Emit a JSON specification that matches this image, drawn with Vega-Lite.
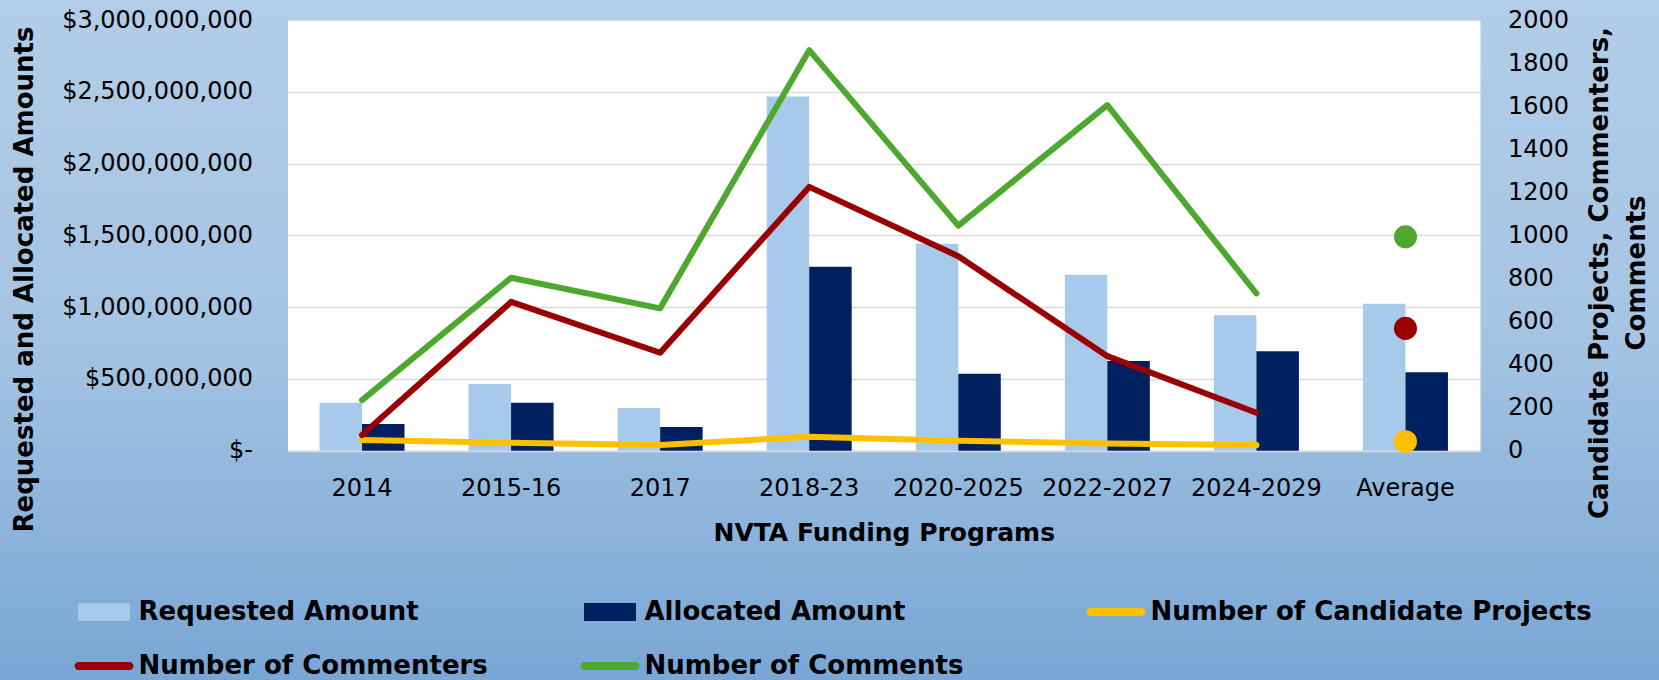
{
  "$schema": "https://vega.github.io/schema/vega-lite/v6.json",
  "width": 1659,
  "height": 680,
  "padding": 0,
  "autosize": {"type": "none"},
  "background": "#A6C5E4",
  "config": {
    "view": {
      "stroke": null,
      "fill": {"gradient": "linear", "x1": 0, "y1": 0, "x2": 0, "y2": 1,
        "stops": [{"offset": 0, "color": "#B2CDE7"}, {"offset": 0.5, "color": "#A5C4E3"}, {"offset": 1, "color": "#78A6D5"}]}
    },
    "font": "DejaVu Sans",
    "axis": {"labelFont": "DejaVu Sans", "labelFontSize": 24, "labelColor": "#000000", "labelLimit": 0, "titleFont": "DejaVu Sans", "titleFontSize": 26, "titleFontWeight": "bold", "titleColor": "#000000", "ticks": false, "domain": false, "grid": false}
  },
  "datasets": {
    "amounts": [
      {"program": "2014", "type": "Requested Amount", "amount": 334000000},
      {"program": "2014", "type": "Allocated Amount", "amount": 186000000},
      {"program": "2015-16", "type": "Requested Amount", "amount": 464000000},
      {"program": "2015-16", "type": "Allocated Amount", "amount": 334000000},
      {"program": "2017", "type": "Requested Amount", "amount": 297000000},
      {"program": "2017", "type": "Allocated Amount", "amount": 165000000},
      {"program": "2018-23", "type": "Requested Amount", "amount": 2468000000},
      {"program": "2018-23", "type": "Allocated Amount", "amount": 1281000000},
      {"program": "2020-2025", "type": "Requested Amount", "amount": 1441000000},
      {"program": "2020-2025", "type": "Allocated Amount", "amount": 536000000},
      {"program": "2022-2027", "type": "Requested Amount", "amount": 1226000000},
      {"program": "2022-2027", "type": "Allocated Amount", "amount": 625000000},
      {"program": "2024-2029", "type": "Requested Amount", "amount": 943000000},
      {"program": "2024-2029", "type": "Allocated Amount", "amount": 692000000},
      {"program": "Average", "type": "Requested Amount", "amount": 1024000000},
      {"program": "Average", "type": "Allocated Amount", "amount": 546000000}
    ],
    "counts": [
      {"program": "2014", "type": "Number of Candidate Projects", "count": 50},
      {"program": "2015-16", "type": "Number of Candidate Projects", "count": 37},
      {"program": "2017", "type": "Number of Candidate Projects", "count": 26},
      {"program": "2018-23", "type": "Number of Candidate Projects", "count": 65},
      {"program": "2020-2025", "type": "Number of Candidate Projects", "count": 46},
      {"program": "2022-2027", "type": "Number of Candidate Projects", "count": 34},
      {"program": "2024-2029", "type": "Number of Candidate Projects", "count": 26},
      {"program": "Average", "type": "Number of Candidate Projects", "count": 42},
      {"program": "2014", "type": "Number of Commenters", "count": 73},
      {"program": "2015-16", "type": "Number of Commenters", "count": 691},
      {"program": "2017", "type": "Number of Commenters", "count": 455},
      {"program": "2018-23", "type": "Number of Commenters", "count": 1225},
      {"program": "2020-2025", "type": "Number of Commenters", "count": 903},
      {"program": "2022-2027", "type": "Number of Commenters", "count": 439},
      {"program": "2024-2029", "type": "Number of Commenters", "count": 176},
      {"program": "Average", "type": "Number of Commenters", "count": 568},
      {"program": "2014", "type": "Number of Comments", "count": 235},
      {"program": "2015-16", "type": "Number of Comments", "count": 803},
      {"program": "2017", "type": "Number of Comments", "count": 661},
      {"program": "2018-23", "type": "Number of Comments", "count": 1860},
      {"program": "2020-2025", "type": "Number of Comments", "count": 1045},
      {"program": "2022-2027", "type": "Number of Comments", "count": 1605},
      {"program": "2024-2029", "type": "Number of Comments", "count": 730},
      {"program": "Average", "type": "Number of Comments", "count": 993}
    ]
  },
  "layer": [
    {
      "data": {"values": [{"program": "2014"}]},
      "mark": {"type": "point", "opacity": 0},
      "encoding": {
        "x": {"field": "program", "type": "nominal", "sort": null},
        "y": {
          "datum": 0.5, "type": "quantitative",
          "scale": {"domain": [0, 1], "range": [450.7, 20], "nice": false},
          "axis": {"orient": "left", "offset": -287.5, "values": [0.5], "labels": false, "title": null,
            "grid": true, "gridColor": "#FFFFFF", "gridWidth": 430.7, "gridOpacity": 1, "gridCap": "butt", "zindex": 0}
        }
      }
    },
    {
      "data": {"name": "amounts"},
      "mark": {"type": "bar"},
      "encoding": {
        "x": {
          "field": "program", "type": "nominal", "sort": null,
          "scale": {"domain": ["2014", "2015-16", "2017", "2018-23", "2020-2025", "2022-2027", "2024-2029", "Average"], "range": [287.5, 1480], "paddingInner": 0.43, "paddingOuter": 0.215},
          "axis": {"orient": "bottom", "offset": 0, "title": "NVTA Funding Programs", "titleFontSize": 25, "labelAngle": 0, "labelAlign": "center", "labelBaseline": "top", "labelPadding": -203.3,
            "titleY": -160, "titleBaseline": "top", "grid": false, "domain": false, "zindex": 0}
        },
        "xOffset": {"field": "type", "type": "nominal", "sort": ["Requested Amount", "Allocated Amount"]},
        "y": {
          "field": "amount", "type": "quantitative",
          "scale": {"domain": [0, 3000000000], "range": [450.7, 20], "nice": false},
          "axis": {"orient": "left", "offset": -287.5, "values": [0, 500000000, 1000000000, 1500000000, 2000000000, 2500000000, 3000000000],
            "labelExpr": "datum.value === 0 ? '$-\u00a0\u00a0' : '$' + format(datum.value, ',')",
            "labelPadding": 35, "grid": true, "gridColor": "#D9D9D9", "gridWidth": 1.5, "zindex": 0,
            "title": "Requested and Allocated Amounts", "titleX": -263.5, "titleY": 279, "titleAngle": -90, "titleBaseline": "middle", "titleAlign": "center"}
        },
        "color": {
          "field": "type", "type": "nominal",
          "scale": {"domain": ["Requested Amount", "Allocated Amount", "Number of Candidate Projects", "Number of Commenters", "Number of Comments"],
                    "range": ["#A7CAEB", "#002060", "#FFC000", "#990000", "#4EA72E"]},
          "legend": {
            "orient": "none", "legendX": 78, "legendY": 586, "direction": "horizontal", "columns": 3, "gridAlign": "all",
            "columnPadding": 0, "rowPadding": 15, "symbolSize": 2704, "labelFont": "DejaVu Sans", "labelFontWeight": "bold",
            "labelFontSize": 26, "labelColor": "#000000", "labelOffset": 8.5, "labelLimit": 0, "title": null,
            "symbolStrokeWidth": 0, "symbolOpacity": 1,
            "encode": {
              "symbols": {
                "update": {
                  "shape": {"signal": "indexof(['Requested Amount','Allocated Amount'], datum.value) >= 0 ? 'M-1,-0.346H1V0.346H-1Z' : 'M-0.98,-0.154H0.98A0.154,0.154 0 0 1 0.98,0.154H-0.98A0.154,0.154 0 0 1 -0.98,-0.154Z'"},
                  "fill": {"scale": "color", "field": "value"},
                  "stroke": {"value": "transparent"},
                  "strokeWidth": {"value": 0},
                  "opacity": {"value": 1},
                  "size": {"value": 2704}
                }
              }
            }
          }
        }
      }
    },
    {
      "data": {"name": "counts"},
      "layer": [
        {
          "transform": [{"filter": "datum.program !== 'Average'"}],
          "mark": {"type": "line", "strokeWidth": 6, "strokeCap": "round", "strokeJoin": "round"},
          "encoding": {
            "x": {"field": "program", "type": "nominal", "sort": null},
            "y": {
              "field": "count", "type": "quantitative",
              "scale": {"domain": [0, 2000], "range": [450.7, 20], "nice": false},
              "axis": {"orient": "right", "offset": -179, "values": [0, 200, 400, 600, 800, 1000, 1200, 1400, 1600, 1800, 2000],
                "format": "d", "labelPadding": 27.5, "grid": false,
                "title": ["Candidate Projects, Commenters,", "Comments"], "titleX": 119, "titleY": 272.5, "titleAngle": 270,
                "titleBaseline": "middle", "titleAlign": "center", "titleLineHeight": 37}
            },
            "color": {"field": "type", "type": "nominal"}
          }
        },
        {
          "transform": [{"filter": "datum.program === 'Average'"}],
          "mark": {"type": "circle", "size": 530, "opacity": 1},
          "encoding": {
            "x": {"field": "program", "type": "nominal", "sort": null},
            "y": {"field": "count", "type": "quantitative"},
            "color": {"field": "type", "type": "nominal"}
          }
        }
      ]
    }
  ],
  "resolve": {"scale": {"y": "independent"}}
}
